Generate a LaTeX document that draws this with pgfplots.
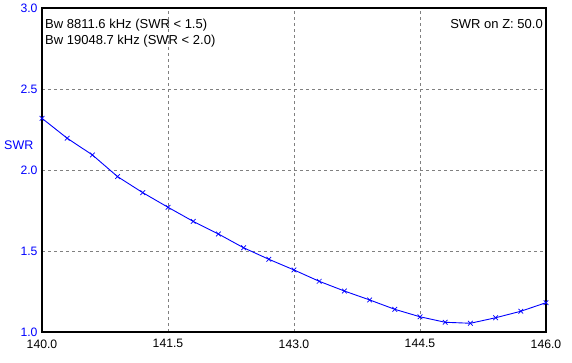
\documentclass[border=0pt]{standalone}
\usepackage{fontspec}
\setmainfont{Liberation Sans}
\usepackage{pgfplots}
\pgfplotsset{compat=1.18}
\definecolor{swrblue}{RGB}{0,0,255}
\definecolor{gridgray}{RGB}{128,128,128}
\begin{document}
\begin{tikzpicture}
\begin{axis}[
  at={(0,0)}, anchor=south west,
  scale only axis,
  width=504pt, height=324pt,
  xmin=140, xmax=146, ymin=1, ymax=3,
  xtick={140,141.5,143,144.5,146},
  ytick={1,1.5,2,2.5,3},
  xticklabels={140.0,141.5,143.0,144.5,146.0},
  yticklabels={1.0,1.5,2.0,2.5,3.0},
  major tick length=0pt,
  grid=major,
  major grid style={gridgray, dash pattern=on 3pt off 3pt, line width=0.8pt},
  axis line style={black, line width=1.7pt},
  tick label style={font=\fontsize{12.2}{14}\selectfont},
  yticklabel style={text=swrblue, anchor=east, xshift=-1pt},
  xticklabel style={anchor=north, yshift=-4pt},
  clip=false,
]
\addplot[swrblue, line width=0.9pt, mark=x, mark size=3.3pt, mark options={line width=0.7pt}]
coordinates {
(140.0,2.319) (140.3,2.196) (140.6,2.093) (140.9,1.959) (141.2,1.860)
(141.5,1.770) (141.8,1.683) (142.1,1.605) (142.4,1.520) (142.7,1.449)
(143.0,1.383) (143.3,1.313) (143.6,1.253) (143.9,1.198) (144.2,1.140)
(144.5,1.094) (144.8,1.060) (145.1,1.054) (145.4,1.088) (145.7,1.128)
(146.0,1.181)
};
\node[anchor=base west, inner sep=0pt, font=\fontsize{13}{15}\selectfont] at (axis description cs:0.006,0.938) {Bw 8811.6 kHz (SWR < 1.5)};
\node[anchor=base west, inner sep=0pt, font=\fontsize{13}{15}\selectfont] at (axis description cs:0.006,0.887) {Bw 19048.7 kHz (SWR < 2.0)};
\node[anchor=base east, inner sep=0pt, font=\fontsize{13}{15}\selectfont] at (axis description cs:0.994,0.938) {SWR on Z: 50.0};
\node[text=swrblue, inner sep=0pt, font=\fontsize{12.5}{14}\selectfont] at (axis description cs:-0.046,0.578) {SWR};
\end{axis}
\pgfresetboundingbox
\path (-42pt,-30pt) rectangle (530pt,332pt);
\end{tikzpicture}
\end{document}
